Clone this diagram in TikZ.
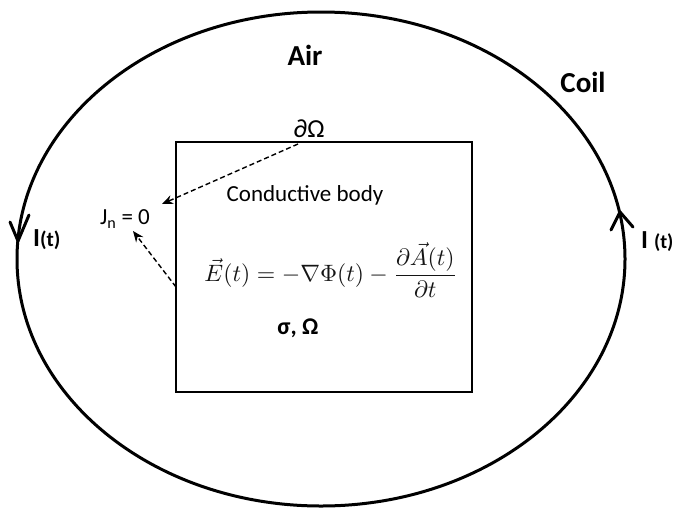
\documentclass[tikz,border=0pt]{standalone}
\usepackage{graphicx}
\usepackage{fontspec}
\setmainfont{Carlito}
\usetikzlibrary{arrows.meta}
\begin{document}
\begin{tikzpicture}[x=1pt,y=-1pt,
  coil/.style={line width=3pt},
  lbl/.style={inner sep=0pt,font=\fontsize{23}{26}\selectfont},
  blbl/.style={inner sep=0pt,font=\fontsize{29}{32}\selectfont\bfseries},
  dasharrow/.style={line width=1.4pt,dash pattern=on 5pt off 3pt,-{Stealth[length=11pt,width=9pt]}},
  barb/.style={line width=3pt,line cap=round,line join=round}]
\useasboundingbox (0,0) rectangle (679,509);
% coil
\draw[coil] (321,259) ellipse [x radius=304, y radius=247];
\draw[barb] (10,222) -- (18,241) -- (29,215);
\draw[barb] (611,230) -- (620,212) -- (633,227);
% conductive body
\draw[line width=2.4pt] (176,142) rectangle (472,392);
\node[blbl] (air) at (305,55) {Air};
\node[blbl] (coilt) at (583,82) {Coil};
\node[inner sep=0pt,font=\fontsize{26}{28}\selectfont] (dom) at (309,129) {∂Ω};
\node[lbl] (cb) at (305,195) {Conductive body};
\node[lbl] (jn) at (125,219) {J\textsubscript{n} = 0};
\node[inner sep=0pt,text=black!92] (eq) at (331,270) {\resizebox{253pt}{!}{$\displaystyle \vec{E}(t)=-\nabla\Phi(t)-\frac{\partial\vec{A}(t)}{\partial t}$}};
\node[inner sep=0pt,font=\fontsize{24}{27}\selectfont\bfseries] (sig) at (298,328) {σ, Ω};
\node[inner sep=0pt,anchor=west] (il) at (33,240) {\fontsize{26}{28}\selectfont\bfseries I\fontsize{21}{24}\selectfont(t)};
\node[inner sep=0pt,anchor=west] (ir) at (641,242) {\fontsize{26}{28}\selectfont\bfseries I \fontsize{20}{24}\selectfont(t)};
% arrows
\coordinate (a1s) at (298,144);
\coordinate (a1e) at (162,204);
\coordinate (a2s) at (176,287);
\coordinate (a2e) at (133,231);
\draw[dasharrow] (a1s) -- (a1e);
\draw[dasharrow] (a2s) -- (a2e);
\end{tikzpicture}
\end{document}
